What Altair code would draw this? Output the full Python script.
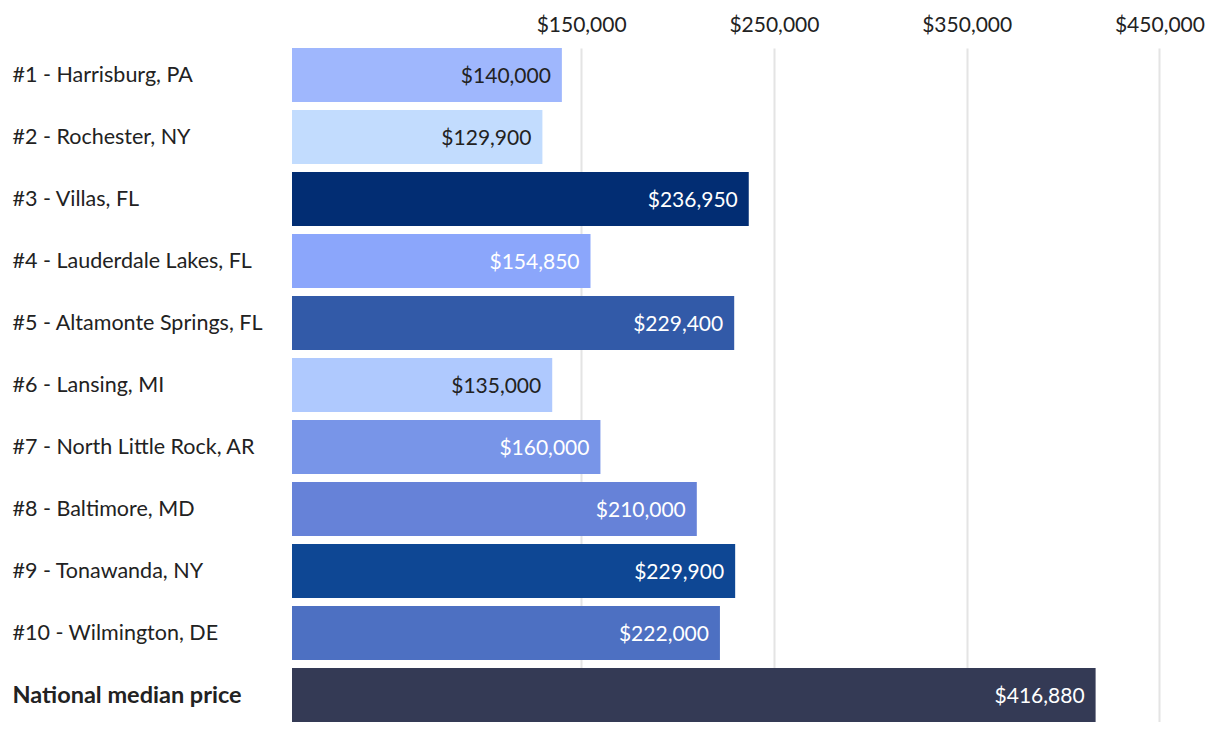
import altair as alt
import pandas as pd

cities = [
    "#1 - Harrisburg, PA",
    "#2 - Rochester, NY",
    "#3 - Villas, FL",
    "#4 - Lauderdale Lakes, FL",
    "#5 - Altamonte Springs, FL",
    "#6 - Lansing, MI",
    "#7 - North Little Rock, AR",
    "#8 - Baltimore, MD",
    "#9 - Tonawanda, NY",
    "#10 - Wilmington, DE",
    "National median price",
]
prices = [140000, 129900, 236950, 154850, 229400, 135000, 160000, 210000, 229900, 222000, 416880]

bar_colors = ["#9fb7fd", "#c2dcfe", "#022d73", "#8ba6fb", "#325aa8", "#afc9fe",
              "#7895e8", "#6682d8", "#0e4794", "#4d70c2", "#343a55"]
text_colors = ["#222222", "#222222", "#ffffff", "#ffffff", "#ffffff", "#222222",
               "#ffffff", "#ffffff", "#ffffff", "#ffffff", "#ffffff"]
tick_values = [150000, 250000, 350000, 450000]

df = pd.DataFrame({"city": cities, "price": prices})

FONT = "Lato"

y_enc = alt.Y(
    "city:N",
    sort=cities,
    title=None,
    scale=alt.Scale(paddingInner=0.13, paddingOuter=0),
    axis=alt.Axis(
        labelAlign="left",
        labelPadding=280,
        labelOffset=1,
        ticks=False,
        domain=False,
        labelColor="#222222",
        labelFont=FONT,
        labelLimit=300,
        labelFontSize=alt.ExprRef(expr="datum.value == 'National median price' ? 23.5 : 21.5"),
        labelFontWeight=alt.ExprRef(expr="datum.value == 'National median price' ? 'bold' : 'normal'"),
    ),
)

x_enc = alt.X(
    "price:Q",
    title=None,
    scale=alt.Scale(domain=[0, 470000], nice=False),
    axis=alt.Axis(
        orient="top",
        values=tick_values,
        format="$,.0f",
        ticks=False,
        domain=False,
        labelFontSize=21,
        labelColor="#222222",
        labelFont=FONT,
        labelPadding=13,
        grid=True,
        gridColor="#e4e4e4",
        gridWidth=2,
    ),
)

bars = alt.Chart(df).mark_bar().encode(
    x=x_enc,
    y=y_enc,
    color=alt.Color("city:N", scale=alt.Scale(domain=cities, range=bar_colors), legend=None),
)

labels = alt.Chart(df).mark_text(align="right", baseline="middle", dx=-11, dy=2, fontSize=21, font=FONT).encode(
    x=alt.X("price:Q", scale=alt.Scale(domain=[0, 470000], nice=False)),
    y=alt.Y("city:N", sort=cities, scale=alt.Scale(paddingInner=0.13, paddingOuter=0)),
    text=alt.Text("price:Q", format="$,.0f"),
    color=alt.Color("city:N", scale=alt.Scale(domain=cities, range=text_colors), legend=None),
)

chart = alt.layer(bars, labels).resolve_scale(color="independent").properties(
    width=906,
    height=674,
    autosize=alt.AutoSizeParams(type="none"),
    padding={"left": 284, "top": 40, "right": 14, "bottom": 0},
).configure_view(stroke=None)

chart.save("out.html", embed_options={"renderer": "svg", "actions": False})
